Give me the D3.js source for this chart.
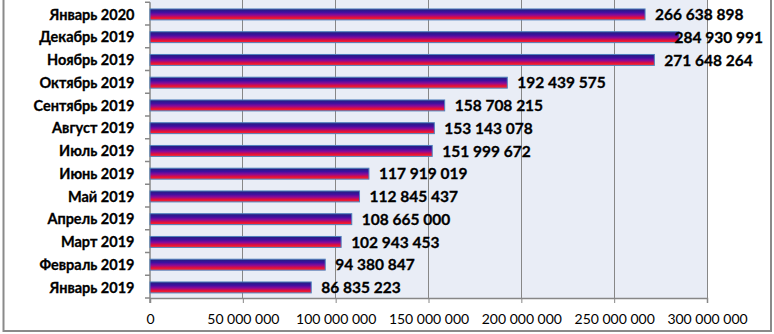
<!DOCTYPE html>
<html><head><meta charset="utf-8">
<script src="https://cdn.jsdelivr.net/npm/d3@7"></script>
<style>
html,body{margin:0;padding:0;background:#fff;}
svg{display:block;font-family:Lato,"Open Sans",sans-serif;}
</style></head>
<body><svg id="c" width="774" height="334"></svg>
<script>
const categories = ["Январь 2020","Декабрь 2019","Ноябрь 2019","Октябрь 2019","Сентябрь 2019","Август 2019","Июль 2019","Июнь 2019","Май 2019","Апрель 2019","Март 2019","Февраль 2019","Январь 2019"];
const values = [266638898,284930991,271648264,192439575,158708215,153143078,151999672,117919019,112845437,108665000,102943453,94380847,86835223];
const valueLabels = ["266 638 898","284 930 991","271 648 264","192 439 575","158 708 215","153 143 078","151 999 672","117 919 019","112 845 437","108 665 000","102 943 453","94 380 847","86 835 223"];
const tickValues = [0,50000000,100000000,150000000,200000000,250000000,300000000];
const tickLabels = ["0","50 000 000","100 000 000","150 000 000","200 000 000","250 000 000","300 000 000"];

const svg = d3.select("#c");
const pL = 150, pR = 707, pT = 2.25, pB = 298;
const x = d3.scaleLinear().domain([0,300000000]).range([pL,pR]);
const slot = d3.scaleBand().domain(categories).range([pT,pB]).padding(0);
const bw = slot.bandwidth();

const defs = svg.append("defs");
const g = defs.append("linearGradient").attr("id","bg").attr("x1",0).attr("y1",0).attr("x2",0).attr("y2",1);
[[0,"#22207a"],[0.3,"#3c10a0"],[0.55,"#8a0a98"],[0.78,"#e0103c"],[1,"#ff2a2a"]].forEach(s=>g.append("stop").attr("offset",s[0]).attr("stop-color",s[1]));

// outer border
svg.append("rect").attr("x",3.5).attr("y",-2).attr("width",767.5).attr("height",333)
  .attr("fill","#fff").attr("stroke","#8a8a8a").attr("stroke-width",2);

// plot background
svg.append("rect").attr("x",pL).attr("y",0).attr("width",pR-pL).attr("height",pB)
  .attr("fill","#e9edf6");

// gridlines
svg.append("g").selectAll("line").data(tickValues.slice(1)).join("line")
  .attr("x1",d=>x(d)).attr("x2",d=>x(d)).attr("y1",0).attr("y2",pB)
  .attr("stroke","#878787").attr("stroke-width",1).attr("shape-rendering","crispEdges");

// x axis
const xa = d3.axisBottom(x).tickValues(tickValues).tickSize(5).tickFormat((d,i)=>tickLabels[i]);
const xg = svg.append("g").attr("transform",`translate(0,${pB})`).call(xa);
xg.select(".domain").attr("stroke","#878787").attr("stroke-width",1.5);
xg.selectAll(".tick line").attr("stroke","#878787");
xg.selectAll(".tick text").attr("font-family","Lato,'Open Sans',sans-serif").attr("font-size",14).attr("fill","#000").attr("y",16);

// y axis line + ticks at category boundaries
svg.append("line").attr("x1",pL).attr("x2",pL).attr("y1",pT).attr("y2",pB+5)
  .attr("stroke","#878787").attr("stroke-width",1.5);
const bounds = categories.map(c=>slot(c)).concat([pB]);
svg.append("g").selectAll("line").data(bounds).join("line")
  .attr("x1",pL-5).attr("x2",pL).attr("y1",d=>d).attr("y2",d=>d)
  .attr("stroke","#878787").attr("stroke-width",1.5);

// category labels
svg.append("g").selectAll("text").data(categories).join("text")
  .attr("x",134.5).attr("y",d=>slot(d)+bw/2+1).attr("dy","0.35em")
  .attr("text-anchor","end").attr("font-weight","bold").attr("font-size",14.5).attr("fill","#000")
  .attr("stroke","#000").attr("stroke-width",0.3)
  .text(d=>d);

// bars
svg.append("g").selectAll("rect").data(values).join("rect")
  .attr("x",pL).attr("y",(d,i)=>slot(categories[i])+bw*0.26+0.8)
  .attr("width",d=>x(d)-pL).attr("height",bw*0.48)
  .attr("fill","url(#bg)").attr("stroke","#4f81bd").attr("stroke-width",1);

// value labels
const vl = svg.append("g").selectAll("text").data(values).join("text")
  .attr("x",d=>x(d)+10).attr("y",(d,i)=>slot(categories[i])+bw/2+1).attr("dy","0.35em")
  .attr("font-weight","bold").attr("font-size",15.5).attr("fill","#000")
  .attr("stroke","#000").attr("stroke-width",0.3)
  .text((d,i)=>valueLabels[i]);
vl.each(function(d){
  const w = this.getComputedTextLength();
  if (x(d)+10+w > 763) d3.select(this).attr("x",763).attr("text-anchor","end");
});
</script></body></html>
